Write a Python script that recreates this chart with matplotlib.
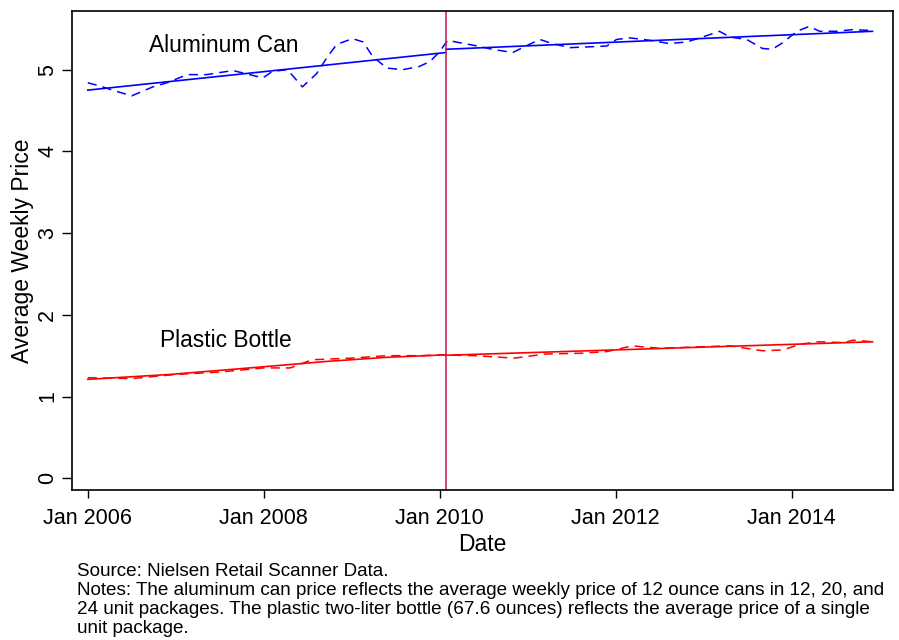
import numpy as np
import matplotlib
matplotlib.use('Agg')
import matplotlib.pyplot as plt

plt.rcParams['font.family'] = ['Liberation Sans', 'DejaVu Sans']

# %% Data (decimal years, average weekly price)
can_year = [2006.00, 2006.14, 2006.28, 2006.50, 2006.74, 2006.90, 2007.13, 2007.35,
            2007.65, 2007.84, 2007.99, 2008.10, 2008.27, 2008.44, 2008.60, 2008.72,
            2008.83, 2009.01, 2009.13, 2009.24, 2009.40, 2009.58, 2009.77, 2009.89,
            2010.00, 2010.09, 2010.23, 2010.38, 2010.60, 2010.83, 2011.02, 2011.14,
            2011.28, 2011.48, 2011.70, 2011.90, 2012.01, 2012.16, 2012.39, 2012.61,
            2012.81, 2012.99, 2013.18, 2013.30, 2013.49, 2013.67, 2013.78, 2013.90,
            2014.06, 2014.20, 2014.32, 2014.51, 2014.69, 2014.92]
can_price = [4.84, 4.80, 4.75, 4.68, 4.79, 4.84, 4.94, 4.94,
             4.99, 4.94, 4.90, 4.98, 5.00, 4.79, 4.95, 5.15,
             5.31, 5.38, 5.34, 5.16, 5.02, 5.00, 5.04, 5.10,
             5.22, 5.36, 5.33, 5.30, 5.25, 5.21, 5.31, 5.37,
             5.32, 5.27, 5.28, 5.29, 5.37, 5.39, 5.36, 5.32,
             5.34, 5.40, 5.47, 5.40, 5.37, 5.26, 5.25, 5.33,
             5.47, 5.53, 5.47, 5.47, 5.49, 5.48]

bottle_year = [2006.00, 2006.50, 2007.00, 2007.50, 2008.00, 2008.30, 2008.55, 2009.00,
               2009.40, 2009.80, 2010.00, 2010.40, 2010.85, 2011.20, 2011.60, 2011.90,
               2012.19, 2012.50, 2013.00, 2013.30, 2013.67, 2013.90, 2014.10, 2014.30,
               2014.60, 2014.70, 2014.92]
bottle_price = [1.23, 1.22, 1.27, 1.30, 1.35, 1.35, 1.45, 1.47,
                1.50, 1.50, 1.51, 1.50, 1.47, 1.52, 1.53, 1.55,
                1.62, 1.59, 1.61, 1.62, 1.56, 1.57, 1.64, 1.67,
                1.66, 1.69, 1.67]

# trend lines, before and after the break
break_year = 2010.07
can_trend_pre_x = [2006.00, 2010.07]
can_trend_pre_y = [4.75, 5.21]
can_trend_post_x = [2010.07, 2014.92]
can_trend_post_y = [5.25, 5.47]
bottle_trend_pre_x = [2006.00, 2006.93, 2007.84, 2008.72, 2009.40, 2010.07]
bottle_trend_pre_y = [1.21, 1.27, 1.35, 1.43, 1.48, 1.51]
bottle_trend_post_x = [2010.07, 2014.92]
bottle_trend_post_y = [1.505, 1.67]

x_ticks = [2006, 2008, 2010, 2012, 2014]
x_labels = ['Jan 2006', 'Jan 2008', 'Jan 2010', 'Jan 2012', 'Jan 2014']
y_ticks = [0, 1, 2, 3, 4, 5]

notes = ['Source: Nielsen Retail Scanner Data.',
         'Notes: The aluminum can price reflects the average weekly price of 12 ounce cans in 12, 20, and',
         '24 unit packages. The plastic two-liter bottle (67.6 ounces) reflects the average price of a single',
         'unit package.']

# %% Plot
fig = plt.figure(figsize=(8.99, 6.40), dpi=100)
ax = fig.add_axes([0.080, 0.234, 0.913, 0.749])

ax.plot(can_year, can_price, color='blue', lw=1.1, ls=(0, (6, 4)))
ax.plot(can_trend_pre_x, can_trend_pre_y, color='blue', lw=1.2)
ax.plot(can_trend_post_x, can_trend_post_y, color='blue', lw=1.2)

ax.plot(bottle_year, bottle_price, color='red', lw=1.1, ls=(0, (6, 4)))
ax.plot(bottle_trend_pre_x, bottle_trend_pre_y, color='red', lw=1.2)
ax.plot(bottle_trend_post_x, bottle_trend_post_y, color='red', lw=1.2)

ax.axvline(break_year, color='#c8174a', lw=1.1)

ax.text(2007.55, 5.3, 'Aluminum Can', fontsize=16.4, ha='center', va='center')
ax.text(2007.57, 1.68, 'Plastic Bottle', fontsize=16.4, ha='center', va='center')

ax.set_xlim(2005.82, 2015.15)
ax.set_ylim(-0.147, 5.72)
ax.set_xticks(x_ticks)
ax.set_xticklabels(x_labels, fontsize=15.5)
ax.set_yticks(y_ticks)
ax.set_yticklabels([str(v) for v in y_ticks], fontsize=15.5, rotation=90, va='center')
ax.tick_params(axis='x', direction='out', length=6, width=1, pad=7)
ax.tick_params(axis='y', direction='out', length=7, width=1, pad=3)
ax.set_xlabel('Date', fontsize=16.5, labelpad=3)
ax.set_ylabel('Average Weekly Price', fontsize=16.5, labelpad=2)
for s in ax.spines.values():
    s.set_linewidth(1.2)

for i, line in enumerate(notes):
    fig.text(0.0857, 1 - (572 + 18.7 * i) / 640, line, fontsize=13.6, va='center')

fig.savefig('out.png', dpi=100)
